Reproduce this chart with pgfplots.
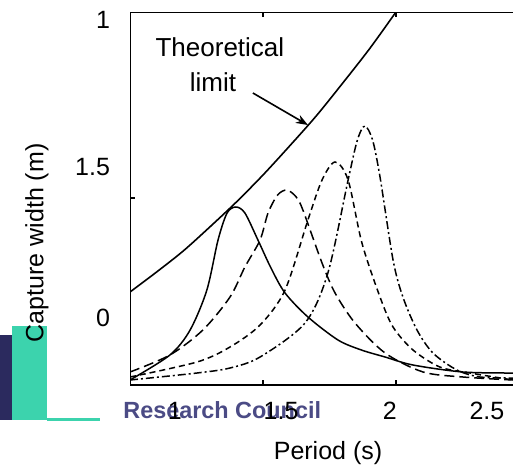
\documentclass[border=0pt]{standalone}
\usepackage{pgfplots}
\pgfplotsset{compat=1.18}
\usepackage{fontspec}
\setmainfont{Liberation Sans}
\usetikzlibrary{arrows.meta}
\definecolor{logogreen}{HTML}{3CD3AD}
\definecolor{logonavy}{HTML}{2B2A5E}
\definecolor{logotext}{HTML}{4B4B85}

\begin{document}
\begin{tikzpicture}
% page = 513x467 px, 1 px = 0.5pt, origin at axis lower left corner
\useasboundingbox (-65pt,-41pt) rectangle (191.5pt,192.5pt);
% logo fragment in the lower left corner
\fill[logonavy] (-65pt,-17.5pt) rectangle (-59pt,25pt);
\fill[logogreen] (-59pt,-17.5pt) rectangle (-41.5pt,29.5pt);
\fill[logogreen] (-41.5pt,-18pt) rectangle (-15pt,-16.5pt);
\node[anchor=base west,inner sep=0pt,text=logotext,font=\fontsize{11.7}{13}\selectfont\bfseries]
  at (-3.5pt,-16.5pt) {Research Council};

\begin{axis}[
  at={(0pt,0pt)}, anchor=south west,
  scale only axis, width=191.5pt, height=186.5pt,
  xmin=1, xmax=2.44, ymin=0, ymax=3.73,
  axis line style={draw=none},
  font=\fontsize{12.5}{14}\selectfont,
  tick style={black, line width=0.8pt},
  major tick length=2.5pt,
  xtick={1.5,2}, xticklabels={},
  ytick={1.87}, yticklabels={}, ytick pos=left,
  extra x ticks={1.169,1.568,1.977,2.342},
  extra x tick labels={1,1.5,2,2.5},
  extra x tick style={major tick length=0pt, xticklabel style={yshift=-5pt}},
  extra y ticks={0.67,2.18,3.65},
  extra y tick labels={0,1.5,1},
  extra y tick style={major tick length=0pt, yticklabel style={xshift=-6.5pt}},
  xlabel={Period (s)},
  ylabel={Capture width (m)},
  xlabel style={at={(axis description cs:0.517,-0.182)}, anchor=center},
  ylabel style={at={(axis description cs:-0.243,0.381)}, anchor=center, rotate=0},
  clip=true,
]
% theoretical limit
\addplot[black, line width=0.8pt, smooth] coordinates {
  (1.0,0.93) (1.1,1.13) (1.2,1.34) (1.3,1.58) (1.4,1.83) (1.5,2.10)
  (1.6,2.39) (1.7,2.69) (1.8,3.02) (1.9,3.36) (2.0,3.73) (2.05,3.92)
};
% solid
\addplot[black, line width=0.75pt, smooth, tension=0.5] coordinates {
  (1.000,0.05) (1.150,0.30) (1.226,0.55) (1.289,0.95) (1.331,1.45)
  (1.365,1.72) (1.398,1.78) (1.432,1.72) (1.481,1.45) (1.530,1.17) (1.583,0.92)
  (1.669,0.68) (1.782,0.45) (1.870,0.35) (1.959,0.28) (2.064,0.20) (2.252,0.13) (2.440,0.12)
};
% long dash
\addplot[black, line width=0.75pt, smooth, tension=0.5, dash pattern=on 5pt off 2.5pt] coordinates {
  (1.000,0.13) (1.150,0.30) (1.274,0.55) (1.376,0.88) (1.432,1.18)
  (1.489,1.45) (1.519,1.72) (1.555,1.90) (1.590,1.95) (1.625,1.88) (1.650,1.75)
  (1.722,1.22) (1.771,0.92) (1.846,0.62) (1.959,0.32) (2.102,0.13)
  (2.252,0.08) (2.440,0.05)
};
% short dash
\addplot[black, line width=0.75pt, smooth, tension=0.5, dash pattern=on 3pt off 2pt] coordinates {
  (1.000,0.08) (1.252,0.23) (1.376,0.38) (1.489,0.60) (1.583,0.95)
  (1.669,1.65) (1.722,2.05) (1.771,2.23) (1.820,2.05) (1.872,1.42)
  (1.940,0.88) (1.989,0.58) (2.064,0.35) (2.165,0.18) (2.278,0.12) (2.440,0.05)
};
% dash-dot
\addplot[black, line width=0.75pt, smooth, tension=0.5, dash pattern=on 4pt off 1.5pt on 1pt off 1.5pt] coordinates {
  (1.000,0.05) (1.252,0.12) (1.376,0.17) (1.489,0.28) (1.658,0.62)
  (1.744,1.12) (1.820,2.05) (1.855,2.45) (1.883,2.59) (1.912,2.45) (1.940,2.08)
  (1.989,1.25) (2.026,0.88) (2.079,0.55) (2.139,0.32) (2.229,0.15)
  (2.316,0.08) (2.440,0.07)
};
% axis box without the right side (cut off in the reference)
\draw[black, line width=1pt] (rel axis cs:1,1) -- (rel axis cs:0,1) -- (rel axis cs:0,0) -- (rel axis cs:1,0);
% annotation
\node[anchor=center, font=\fontsize{13}{15}\selectfont] at (axis cs:1.338,3.38) {Theoretical};
\node[anchor=center, font=\fontsize{13}{15}\selectfont] at (axis cs:1.312,3.03) {limit};
\draw[black, line width=0.8pt, -{Stealth[length=6pt,width=4.5pt]}] (axis cs:1.462,2.92) -- (axis cs:1.669,2.60);
\end{axis}
\end{tikzpicture}
\end{document}
